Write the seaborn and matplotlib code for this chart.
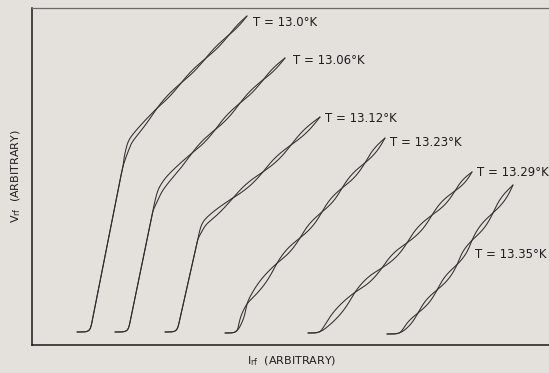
import numpy as np
import pandas as pd
import matplotlib
matplotlib.use("Agg")
import matplotlib.pyplot as plt
import seaborn as sns

# ---------------- data (arbitrary units) ----------------
temps = ["13.0", "13.06", "13.12", "13.23", "13.29", "13.35"]

# backbone points (I_rf, V_rf) of each trace
c1_I = [45, 58, 88, 93, 98, 126, 149, 173, 197, 215]
c1_V = [13, 13, 165, 188, 204, 238, 262, 286, 310, 329]
c2_I = [83, 96, 121, 128, 135, 160, 183, 208, 231, 253]
c2_V = [13, 13, 135, 155, 165, 192, 215, 242, 265, 287]
c3_I = [133, 145, 166, 172, 201, 231, 259, 288]
c3_V = [13, 13, 107, 122, 147, 173, 200, 228]
c4_I = [193, 205, 215, 245, 268, 290, 310, 333, 353]
c4_V = [12, 12, 42, 82, 107, 133, 157, 182, 207]
c5_I = [276, 288, 323, 350, 375, 400, 423, 440]
c5_V = [12, 12, 53, 77, 102, 130, 154, 173]
c6_I = [355, 368, 386, 405, 425, 440, 461, 481]
c6_V = [11, 11, 32, 55, 80, 105, 132, 160]

# I_rf positions where the two oscillating traces cross (nodes)
n1 = [91, 125, 149, 173, 197, 215]
n2 = [121, 160, 183, 208, 231, 253]
n3 = [166, 201, 231, 259, 288]
n4 = [205, 215, 245, 268, 290, 310, 333, 353]
n5 = [288, 323, 350, 375, 400, 423, 440]
n6 = [368, 386, 405, 425, 440, 461, 481]

# relative lobe width of each trace
lobe = [0.03, 0.037, 0.045, 0.055, 0.062, 0.062]

# label anchors (I, V)
lab_I = [221, 261, 293, 358, 445, 443]
lab_V = [322, 285, 227, 203, 173, 90]

curves = [(c1_I, c1_V, n1), (c2_I, c2_V, n2), (c3_I, c3_V, n3),
          (c4_I, c4_V, n4), (c5_I, c5_V, n5), (c6_I, c6_V, n6)]


def trace_pair(I, V, nodes, k):
    I = np.asarray(I, float); V = np.asarray(V, float)
    seg = np.hypot(np.diff(I), np.diff(V))
    s = np.concatenate([[0], np.cumsum(seg)])
    sd = np.arange(0, s[-1], 0.5)
    sd = np.append(sd, s[-1])
    x = np.interp(sd, s, I); y = np.interp(sd, s, V)
    # round the corners
    w = 8
    ker = np.exp(-0.5 * (np.arange(-3 * w, 3 * w + 1) / w) ** 2); ker /= ker.sum()
    xp = np.pad(x, 3 * w, mode="edge"); yp = np.pad(y, 3 * w, mode="edge")
    xs = np.convolve(xp, ker, mode="valid"); ys = np.convolve(yp, ker, mode="valid")
    xs[0], ys[0], xs[-1], ys[-1] = x[0], y[0], x[-1], y[-1]
    seg2 = np.hypot(np.diff(xs), np.diff(ys))
    s2 = np.concatenate([[0], np.cumsum(seg2)])
    dx = np.gradient(xs); dy = np.gradient(ys)
    nn = np.hypot(dx, dy) + 1e-9
    nx, ny = -dy / nn, dx / nn
    ns = np.interp(nodes, xs, s2)
    off = np.zeros_like(xs)
    for a, b in zip(ns[:-1], ns[1:]):
        m = (s2 >= a) & (s2 <= b)
        L = b - a
        off[m] = k * L * np.sin(np.pi * (s2[m] - a) / L)
    return (xs + nx * off, ys + ny * off), (xs - nx * off, ys - ny * off)


rows = []
for ci, ((I, V, nodes), k) in enumerate(zip(curves, lobe)):
    for ti, (tx, ty) in enumerate(trace_pair(I, V, nodes, k)):
        for j, (a, b) in enumerate(zip(tx, ty)):
            rows.append((a, b, f"{ci}-{ti}", j))
df = pd.DataFrame(rows, columns=["I", "V", "unit", "order"])

# ---------------- figure ----------------
bg = "#e4e1dd"
sns.set_style("white")
plt.rcParams["font.family"] = ["DejaVu Sans"]
fig = plt.figure(figsize=(5.49, 3.73), dpi=100, facecolor=bg)
ax = fig.add_axes([32 / 549, 28 / 373, 517 / 549, 337 / 373])
ax.set_facecolor(bg)

sns.lineplot(data=df, x="I", y="V", units="unit", estimator=None, sort=False,
             color="#2e2e2e", lw=0.75, ax=ax, legend=False)

for t, lx, ly in zip(temps, lab_I, lab_V):
    ax.text(lx, ly, f"T = {t}°K", fontsize=8.5, color="#1e1e1e",
            ha="left", va="center")

ax.set_xlim(0, 517)
ax.set_ylim(0, 337)
ax.set_xticks([]); ax.set_yticks([])
ax.set_xlabel(r"$\mathregular{I_{rf}}$  (ARBITRARY)", fontsize=8, color="#1e1e1e")
ax.set_ylabel(r"$\mathregular{V_{rf}}$  (ARBITRARY)", fontsize=8, color="#1e1e1e")
ax.xaxis.label.set_va("center")
ax.yaxis.label.set_va("center")
ax.xaxis.set_label_coords(260 / 517, -16 / 337)
ax.yaxis.set_label_coords(-16 / 517, 0.5)
for side in ["left", "bottom"]:
    ax.spines[side].set_color("#1a1a1a"); ax.spines[side].set_linewidth(1.1)
ax.spines["top"].set_color("#6a6a6a"); ax.spines["top"].set_linewidth(0.9)
ax.spines["right"].set_visible(False)

fig.savefig("out.png", dpi=100, facecolor=bg)
